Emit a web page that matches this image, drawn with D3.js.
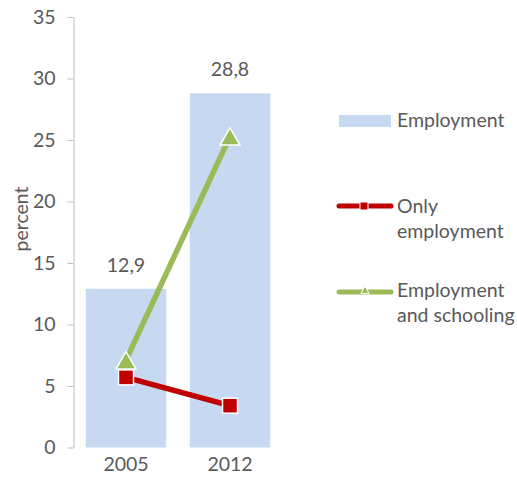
<!DOCTYPE html>
<html><head><meta charset="utf-8">
<script src="https://cdn.jsdelivr.net/npm/d3@7"></script>
<style>body{margin:0;background:#fff}svg{display:block}text{font-family:Lato,"Open Sans",sans-serif;fill:#595959}</style>
</head><body><svg id="c" width="517" height="480"></svg>
<script>
const categories = ["2005", "2012"];
const employment = [12.9, 28.8];
const onlyEmployment = [5.7, 3.4];
const employmentAndSchooling = [7.1, 25.3];
const yTicks = [0, 5, 10, 15, 20, 25, 30, 35];
const seriesNames = ["Employment", "Only employment", "Employment and schooling"];

const svg = d3.select("#c");
const fs = 19.5;
const x = d3.scaleBand().domain(categories).range([74, 282]).paddingInner(0.226).paddingOuter(0.113);
const y = d3.scaleLinear().domain([0, 35]).range([447.5, 17]);
const gray = "#BFBFBF";

// bars
svg.selectAll("rect.bar").data(employment).join("rect")
  .attr("x", (d, i) => x(categories[i])).attr("width", x.bandwidth())
  .attr("y", d => y(d)).attr("height", d => y(0) - y(d)).attr("fill", "#C6D9F1");

// bar labels
svg.selectAll("text.bl").data(employment).join("text")
  .attr("x", (d, i) => x(categories[i]) + x.bandwidth() / 2).attr("y", d => y(d) - 17)
  .attr("text-anchor", "middle").attr("font-size", fs)
  .text(d => d.toFixed(1).replace(".", ","));

// y axis
const yAxis = d3.axisLeft(y).tickValues(yTicks).tickSize(6).tickSizeOuter(0).tickPadding(8);
const gy = svg.append("g").attr("transform", "translate(73.5,0)").call(yAxis);
gy.select(".domain").attr("stroke", gray);
gy.selectAll(".tick line").attr("stroke", gray);
gy.selectAll(".tick text").attr("font-size", fs).attr("fill", "#595959").attr("font-family", "Lato,sans-serif").attr("dx", -4);

// x axis labels
const xAxis = d3.axisBottom(x).tickSize(0).tickPadding(10);
const gx = svg.append("g").attr("transform", `translate(0,${y(0)})`).call(xAxis);
gx.select(".domain").remove();
gx.selectAll(".tick text").attr("font-size", fs).attr("fill", "#595959").attr("font-family", "Lato,sans-serif");

// y axis title
svg.append("text").attr("transform", "translate(28,219) rotate(-90)").attr("text-anchor", "middle")
  .attr("font-size", fs).text("percent");

// lines
const cx = c => x(c) + x.bandwidth() / 2;
const line = d3.line().x((d, i) => cx(categories[i])).y(d => y(d));
svg.append("path").datum(employmentAndSchooling).attr("d", line).attr("fill", "none")
  .attr("stroke", "#9BBB59").attr("stroke-width", 5.5);
svg.append("path").datum(onlyEmployment).attr("d", line).attr("fill", "none")
  .attr("stroke", "#C00000").attr("stroke-width", 5.5);

const tri = d3.symbol().type(d3.symbolTriangle).size(170);
svg.selectAll("path.tri").data(employmentAndSchooling).join("path")
  .attr("d", tri).attr("transform", (d, i) => `translate(${cx(categories[i])},${y(d) + 3})`)
  .attr("fill", "#9BBB59").attr("stroke", "#fff").attr("stroke-width", 1.5);
svg.selectAll("rect.sq").data(onlyEmployment).join("rect")
  .attr("x", (d, i) => cx(categories[i]) - 7.5).attr("y", d => y(d) - 7.5)
  .attr("width", 15).attr("height", 15)
  .attr("fill", "#C00000").attr("stroke", "#fff").attr("stroke-width", 1.5);

// legend
const lg = svg.append("g");
lg.append("rect").attr("x", 339).attr("y", 115).attr("width", 52).attr("height", 12).attr("fill", "#C6D9F1");
lg.append("text").attr("x", 397).attr("y", 127).attr("font-size", fs).text(seriesNames[0]);

lg.append("line").attr("x1", 339).attr("x2", 391).attr("y1", 206).attr("y2", 206)
  .attr("stroke", "#C00000").attr("stroke-width", 5).attr("stroke-linecap", "round");
lg.append("rect").attr("x", 360).attr("y", 202).attr("width", 8).attr("height", 8)
  .attr("fill", "#C00000").attr("stroke", "#fff").attr("stroke-width", 1);
lg.append("text").attr("x", 397).attr("y", 213).attr("font-size", fs).text("Only");
lg.append("text").attr("x", 397).attr("y", 238).attr("font-size", fs).text("employment");

lg.append("line").attr("x1", 339).attr("x2", 391).attr("y1", 292).attr("y2", 292)
  .attr("stroke", "#9BBB59").attr("stroke-width", 5).attr("stroke-linecap", "round");
lg.append("path").attr("d", d3.symbol().type(d3.symbolTriangle).size(30)())
  .attr("transform", "translate(365,291)").attr("fill", "#9BBB59").attr("stroke", "#fff").attr("stroke-width", 1);
lg.append("text").attr("x", 397).attr("y", 297).attr("font-size", fs).text("Employment");
lg.append("text").attr("x", 397).attr("y", 322).attr("font-size", fs).text("and schooling");
</script></body></html>
